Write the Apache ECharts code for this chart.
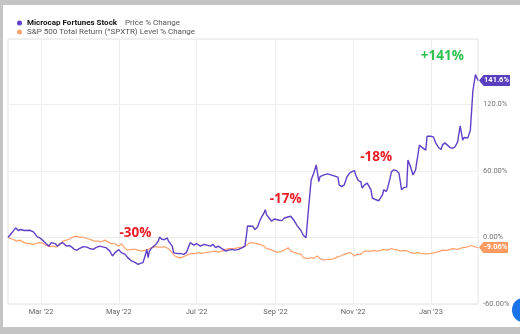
<!DOCTYPE html>
<html>
<head>
<meta charset="utf-8">
<script src="https://cdn.jsdelivr.net/npm/echarts@6/dist/echarts.min.js"></script>
<style>
html,body{margin:0;padding:0;width:520px;height:334px;overflow:hidden;background:#c4c4c4;}
#card{position:absolute;left:3px;top:5px;width:517px;height:322px;background:#fff;}
#blue{position:absolute;left:512px;top:298px;width:22px;height:24px;border-radius:50%;background:#1a73e8;}
#chart{position:absolute;left:0;top:0;width:520px;height:334px;}
</style>
</head>
<body>
<div id="card"></div>
<div id="blue"></div>
<div id="chart"></div>
<script>
const microName = 'Microcap Fortunes Stock';
const microDesc = 'Price % Change';
const spxName = 'S&P 500 Total Return (^SPXTR) Level % Change';

const microDates = ['2022-02-03','2022-02-06','2022-02-09','2022-02-11','2022-02-13','2022-02-16','2022-02-17','2022-02-20','2022-02-21','2022-02-23','2022-02-24','2022-02-26','2022-02-28','2022-03-03','2022-03-05','2022-03-07','2022-03-09','2022-03-12','2022-03-14','2022-03-16','2022-03-18','2022-03-21','2022-03-23','2022-03-25','2022-03-27','2022-03-29','2022-03-31','2022-04-03','2022-04-06','2022-04-08','2022-04-11','2022-04-13','2022-04-16','2022-04-19','2022-04-21','2022-04-24','2022-04-26','2022-04-28','2022-05-01','2022-05-03','2022-05-06','2022-05-08','2022-05-11','2022-05-14','2022-05-16','2022-05-18','2022-05-20','2022-05-22','2022-05-23','2022-05-24','2022-05-25','2022-05-27','2022-05-30','2022-06-01','2022-06-02','2022-06-04','2022-06-06','2022-06-08','2022-06-09','2022-06-10','2022-06-12','2022-06-13','2022-06-16','2022-06-18','2022-06-21','2022-06-22','2022-06-23','2022-06-25','2022-06-26','2022-06-29','2022-07-01','2022-07-04','2022-07-07','2022-07-09','2022-07-12','2022-07-14','2022-07-16','2022-07-18','2022-07-21','2022-07-24','2022-07-26','2022-07-29','2022-07-31','2022-08-03','2022-08-06','2022-08-08','2022-08-09','2022-08-10','2022-08-11','2022-08-14','2022-08-16','2022-08-18','2022-08-20','2022-08-23','2022-08-24','2022-08-25','2022-08-27','2022-08-29','2022-08-31','2022-09-01','2022-09-04','2022-09-06','2022-09-08','2022-09-10','2022-09-13','2022-09-14','2022-09-16','2022-09-18','2022-09-21','2022-09-23','2022-09-25','2022-09-27','2022-09-28','2022-09-29','2022-10-01','2022-10-03','2022-10-05','2022-10-06','2022-10-09','2022-10-12','2022-10-13','2022-10-17','2022-10-20','2022-10-21','2022-10-23','2022-10-25','2022-10-27','2022-10-29','2022-10-31','2022-11-02','2022-11-03','2022-11-05','2022-11-07','2022-11-08','2022-11-10','2022-11-12','2022-11-15','2022-11-16','2022-11-19','2022-11-20','2022-11-21','2022-11-24','2022-11-25','2022-11-27','2022-11-28','2022-11-30','2022-12-01','2022-12-03','2022-12-05','2022-12-07','2022-12-08','2022-12-09','2022-12-11','2022-12-13','2022-12-14','2022-12-16','2022-12-18','2022-12-20','2022-12-22','2022-12-23','2022-12-25','2022-12-28','2022-12-29','2023-01-01','2023-01-03','2023-01-05','2023-01-07','2023-01-09','2023-01-10','2023-01-12','2023-01-14','2023-01-16','2023-01-18','2023-01-20','2023-01-22','2023-01-23','2023-01-24','2023-01-26','2023-01-27','2023-01-30','2023-02-01','2023-02-02','2023-02-03','2023-02-05','2023-02-07'];
const microValues = [0,4.2,8.7,6.3,7.2,6.3,4.7,6.5,7.8,5.1,3.3,0.6,-0.3,-3.3,-5.6,-7.8,-4.7,-5.6,-7.8,-5.4,-4.7,-7.8,-7.2,-8.7,-10.7,-11.4,-10.1,-8.3,-8.7,-9.9,-10.7,-9.2,-7.8,-8.7,-9.2,-12.3,-16.7,-13.7,-11.0,-13.7,-15.2,-18.2,-21.2,-22.7,-24.2,-23.3,-22.7,-15.2,-10.7,-18.2,-12.3,-9.2,-6.3,-3.3,0.3,-1.8,-1.8,-0.3,-3.3,-1.8,-7.8,-13.7,-14.6,-14.3,-15.2,-14.6,-13.7,-7.8,-4.7,-6.9,-5.6,-7.8,-6.3,-6.9,-7.8,-6.3,-9.2,-7.8,-10.1,-12.3,-11.4,-10.7,-11.4,-10.7,-9.2,-7.8,0,10.3,10.7,10.1,7.2,9.6,16.1,22.1,25.1,20.6,17.6,14.6,16.7,15.2,15.5,15.2,17.6,18.2,19.1,17.6,14.6,10.7,6.3,1.8,-0.3,26.6,28.0,51.9,57.9,65.4,50.4,54.9,56.4,57.3,57.0,55.5,54.4,47.5,45.9,47.5,54.4,57.9,59.4,60.3,56.4,51.3,50.4,44.5,47.5,49.0,43.0,35.6,34.0,34.9,33.1,38.5,43.0,41.5,44.5,53.5,59.4,60.9,60.3,57.9,50.4,43.0,45.2,45.4,69.8,63.8,56.4,60.9,75.8,83.3,81.2,78.8,91.3,91.3,90.7,84.8,81.2,79.4,83.3,85.3,83.3,81.2,80.3,81.8,86.2,84.8,100.6,87.8,90.2,89.8,96.7,114.6,132.5,146.9,141.6];

const spxDates = ['2022-02-03','2022-02-07','2022-02-10','2022-02-12','2022-02-15','2022-02-17','2022-02-20','2022-02-23','2022-02-25','2022-02-28','2022-03-03','2022-03-05','2022-03-08','2022-03-10','2022-03-13','2022-03-16','2022-03-18','2022-03-21','2022-03-24','2022-03-26','2022-03-29','2022-03-31','2022-04-03','2022-04-06','2022-04-10','2022-04-12','2022-04-15','2022-04-17','2022-04-20','2022-04-23','2022-04-25','2022-04-28','2022-05-01','2022-05-03','2022-05-06','2022-05-08','2022-05-11','2022-05-14','2022-05-16','2022-05-19','2022-05-22','2022-05-24','2022-05-27','2022-05-30','2022-06-01','2022-06-04','2022-06-06','2022-06-09','2022-06-12','2022-06-14','2022-06-17','2022-06-19','2022-06-22','2022-06-25','2022-06-27','2022-06-30','2022-07-03','2022-07-05','2022-07-08','2022-07-10','2022-07-13','2022-07-16','2022-07-18','2022-07-21','2022-07-24','2022-07-26','2022-07-29','2022-07-31','2022-08-03','2022-08-07','2022-08-10','2022-08-12','2022-08-16','2022-08-20','2022-08-23','2022-08-25','2022-08-28','2022-08-31','2022-09-02','2022-09-05','2022-09-08','2022-09-11','2022-09-13','2022-09-15','2022-09-18','2022-09-21','2022-09-23','2022-09-26','2022-09-29','2022-10-01','2022-10-04','2022-10-06','2022-10-09','2022-10-12','2022-10-14','2022-10-17','2022-10-20','2022-10-22','2022-10-25','2022-10-27','2022-10-30','2022-11-02','2022-11-04','2022-11-07','2022-11-10','2022-11-12','2022-11-15','2022-11-17','2022-11-20','2022-11-23','2022-11-25','2022-11-28','2022-12-01','2022-12-03','2022-12-06','2022-12-08','2022-12-11','2022-12-14','2022-12-16','2022-12-19','2022-12-22','2022-12-24','2022-12-27','2022-12-29','2023-01-01','2023-01-04','2023-01-06','2023-01-10','2023-01-14','2023-01-18','2023-01-22','2023-01-26','2023-01-29','2023-02-02','2023-02-04','2023-02-07'];
const spxValues = [0,-1.8,-3.3,-2.4,-4.2,-5.1,-5.6,-6.3,-5.4,-4.7,-5.6,-7.2,-8.3,-7.8,-8.7,-6.3,-3.3,-2.4,-0.9,0.3,1.2,0.3,0.3,-0.9,-2.4,-3.3,-3.3,-3.9,-2.4,-4.2,-5.6,-5.6,-7.8,-5.6,-10.1,-11.4,-10.7,-10.7,-11.4,-12.3,-11.4,-10.7,-9.2,-8.3,-8.7,-8.7,-8.3,-10.1,-13.7,-16.7,-18.2,-18.2,-16.7,-15.2,-14.3,-14.6,-13.7,-14.3,-13.7,-13.2,-12.8,-12.3,-13.2,-12.3,-10.7,-10.1,-10.1,-9.9,-9.2,-8.7,-6.3,-4.7,-5.4,-6.3,-7.8,-10.1,-10.7,-12.3,-13.2,-12.8,-11.4,-9.2,-12.3,-13.2,-14.3,-15.2,-18.2,-19.1,-18.2,-18.8,-16.7,-19.1,-20.3,-19.7,-19.7,-19.1,-17.3,-16.7,-15.2,-14.3,-13.7,-16.7,-15.2,-15.2,-12.3,-12.3,-12.3,-11.6,-12.3,-11.6,-10.7,-11.4,-9.9,-10.7,-11.4,-12.3,-11.6,-12.3,-13.7,-14.3,-13.7,-14.3,-14.8,-14.8,-14.3,-13.7,-13.2,-11.4,-11.6,-10.1,-10.7,-9.2,-8.7,-7.2,-8.3,-9.06];

const xStart = '2022-02-03';
const xEnd = '2023-02-07';
const xTickDates = ['2022-03-01','2022-05-01','2022-07-01','2022-09-01','2022-11-01','2023-01-01'];
const xTickLabels = ["Mar '22","May '22","Jul '22","Sep '22","Nov '22","Jan '23"];
const yTickValues = [-60, 0, 60, 120];
const yTickLabels = ['-60.00%','0.00%','60.00%','120.0%'];

const annotDates = ['2023-01-10','2022-05-14','2022-09-09','2022-11-19'];
const annotValues = [163.5, 3.9, 34.5, 72.4];
const annotTexts = ['+141%','-30%','-17%','-18%'];
const annotColors = ['#2ec24f','#ee1c25','#ee1c25','#ee1c25'];

const purple = '#6040c8';
const orange = '#ffa36e';

const T = s => echarts.number.parseDate(s).getTime();
const xLabelMap = {};
xTickDates.forEach((d, i) => { xLabelMap[T(d)] = xTickLabels[i]; });
const yLabelMap = {};
yTickValues.forEach((v, i) => { yLabelMap[v] = yTickLabels[i]; });

const microData = microDates.map((d, i) => [T(d), microValues[i]]);
const spxData = spxDates.map((d, i) => [T(d), spxValues[i]]);

const annotData = annotTexts.map((t, i) => ({
  coord: [T(annotDates[i]), annotValues[i]],
  symbol: 'circle', symbolSize: 1,
  itemStyle: { color: 'rgba(0,0,0,0)' },
  label: { show: true, position: 'inside', formatter: t, color: annotColors[i],
           fontSize: 13.5, fontWeight: 'bold', fontFamily: 'Open Sans' }
}));

function flag(dates, values, color, text, w) {
  const n = dates.length - 1;
  return {
    coord: [T(dates[n]), values[n]],
    symbol: 'path://M0,6 L6,0 L40,0 L40,12 L6,12 Z',
    symbolKeepAspect: false,
    symbolSize: [w, 11],
    symbolOffset: [w / 2 + 1, 0],
    itemStyle: { color: color },
    label: { show: true, position: 'inside', offset: [2, 0], formatter: text,
             color: '#fff', fontSize: 7.5, fontWeight: 'bold', fontFamily: 'Roboto' }
  };
}

const chart = echarts.init(document.getElementById('chart'), null, { renderer: 'canvas' });
chart.setOption({
  animation: false,
  textStyle: { fontFamily: 'Roboto' },
  legend: {
    orient: 'vertical', left: 12, top: 14, itemGap: 1,
    icon: 'circle', itemWidth: 5, itemHeight: 5,
    data: [microName, spxName],
    textStyle: { fontSize: 8, color: '#333',
      rich: { b: { fontWeight: 'bold', color: '#111', fontSize: 8 },
              n: { color: '#555', fontSize: 8 } } },
    formatter: function (name) {
      return name === microName ? '{b|' + name + '}    {n|' + microDesc + '}' : '{n|' + name + '}';
    }
  },
  grid: { left: 8, right: 42, top: 39, bottom: 30, show: true, borderColor: '#e3e3e3', borderWidth: 1 },
  xAxis: {
    type: 'value', min: T(xStart), max: T(xEnd),
    axisLine: { show: false },
    axisTick: { show: false, customValues: xTickDates.map(T) },
    splitLine: { show: true, lineStyle: { color: '#eeeeee', width: 1 } },
    axisLabel: { customValues: xTickDates.map(T), fontSize: 7.5, color: '#666', margin: 4,
      formatter: function (v) { return xLabelMap[v] || ''; } }
  },
  yAxis: {
    type: 'value', position: 'right', min: -60, max: 179, interval: 60,
    axisLine: { show: false }, axisTick: { show: false },
    splitLine: { show: true, lineStyle: { color: '#eeeeee', width: 1 } },
    axisLabel: { fontSize: 7.5, color: '#777', margin: 5, showMaxLabel: false,
      padding: [0, 0, 6, 0],
      formatter: function (v) { return yLabelMap[v] !== undefined ? yLabelMap[v] : ''; } }
  },
  series: [
    {
      name: spxName, type: 'line', data: spxData, showSymbol: false, symbol: 'none',
      lineStyle: { color: orange, width: 1.2 }, itemStyle: { color: orange },
      markPoint: { silent: true, data: [flag(spxDates, spxValues, '#ff9a60', '-9.06%', 29)] }
    },
    {
      name: microName, type: 'line', data: microData, showSymbol: false, symbol: 'none',
      lineStyle: { color: purple, width: 1.4 }, itemStyle: { color: purple },
      markPoint: { silent: true, data: [flag(microDates, microValues, '#5a3ec0', '141.6%', 31)].concat(annotData) }
    }
  ]
});
</script>
</body>
</html>
